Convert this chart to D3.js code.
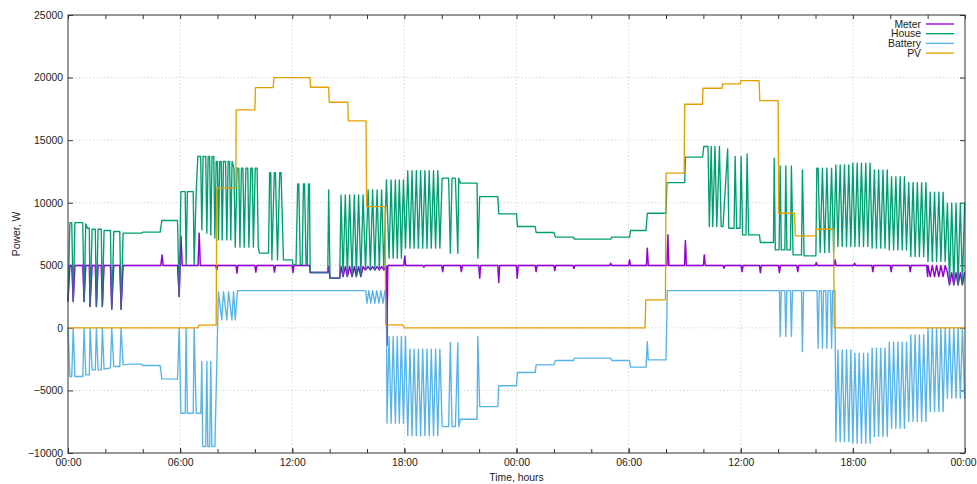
<!DOCTYPE html>
<html>
<head>
<meta charset="utf-8">
<script src="https://cdn.jsdelivr.net/npm/d3@7"></script>
<style>
  body { margin: 0; background: #fff; }
  svg text { font-family: "Liberation Sans", Arial, Helvetica, sans-serif; font-size: 10.4px; fill: #222; }
</style>
</head>
<body>
<svg id="chart" width="977" height="484"></svg>
<script>
// ---- data: [hour since first midnight, watts] ----
const pv = [[0,0],[6.95,0],[7.0,215],[7.93,215],[7.96,11160],[8.98,11160],[9.0,17420],[10.0,17420],[10.03,19200],[10.98,19200],[11.02,20000],[12.95,20000],[12.98,19230],[13.95,19230],[13.98,18030],[14.97,18030],[15.0,16540],[15.95,16540],[15.98,9690],[16.97,9690],[17.0,240],[17.9,240],[18.0,0],[30.88,0],[30.92,2240],[31.97,2240],[32.0,12360],[32.97,12360],[33.0,17870],[33.95,17870],[33.98,19150],[35.0,19150],[35.03,19500],[35.97,19500],[36.0,19760],[36.98,19760],[37.02,18160],[38.0,18160],[38.03,9160],[38.88,9160],[38.92,7350],[40.0,7350],[40.04,7880],[40.97,7880],[41.0,0],[48,0]];

const house = [[0,2100],[0.1,8410],[0.2,8410],[0.28,2100],[0.37,8410],[0.79,8410],[0.86,2100],[0.95,8310],[1.04,7960],[1.14,7960],[1.18,1700],[1.29,7880],[1.46,7880],[1.52,1700],[1.61,7880],[1.78,7880],[1.84,1700],[1.93,7780],[2.27,7780],[2.34,1490],[2.45,7700],[2.77,7700],[2.84,1490],[2.95,7570],[3.95,7570],[4.0,7650],[4.93,7650],[5.02,8580],[5.86,8580],[5.95,2500],[6.04,10890],[6.27,10890],[6.32,5030],[6.39,10890],[6.7,10890],[6.75,5030],[6.86,10890],[6.95,13690],
  [7.1,13690],[7.16,7830],[7.23,13690],[7.37,13690],[7.43,7570],[7.5,13690],[7.58,13690],[7.64,7430],[7.71,13690],[7.8,13690],[7.86,7170],[7.93,13290],[8.0,13290],[8.05,7030],[8.12,13290],[8.2,13290],[8.25,7030],[8.32,13290],[8.43,13290],[8.5,7030],[8.57,13290],[8.65,13290],[8.71,7030],[8.78,13290],[8.88,12760],[8.95,6450],[9.05,12760],[9.14,12760],[9.2,6450],[9.28,12760],[9.36,12760],[9.43,6450],[9.52,12760],[9.62,12760],[9.68,6450],[9.78,12760],[9.86,12760],[9.92,6450],[10.02,12760],[10.12,12760],[10.18,6450],[10.25,5970],[10.73,5970],[10.79,12410],[10.85,12410],[10.91,5430],[11.04,12410],[11.1,12410],[11.21,5430],[11.33,12410],[11.4,12410],[11.53,5430],[12.0,5430],[12.04,5030],[12.2,5030],[12.29,11500],[12.35,11500],[12.43,5030],[12.53,5030],[12.6,11500],[12.66,11500],[12.74,5030],[12.8,5030],[12.87,11500],[12.92,11500],[12.96,4420],[13.9,4420],[13.95,11030],[14.02,3970],[14.54,3970],
  [14.61,10630],[14.72,4100],[14.84,10630],[14.95,4100],[15.07,10630],[15.2,4100],[15.32,10630],[15.43,4100],[15.55,10630],[15.67,4100],[15.79,10630],[15.92,4630],[16.06,11030],[16.18,4630],[16.3,11030],[16.42,4630],[16.54,11030],[16.66,4630],[16.78,11030],[16.9,4630],[17.04,11830],[17.18,5570],[17.29,11830],[17.4,5570],[17.52,11830],[17.62,5570],[17.73,11830],[17.84,5570],[17.95,11830],[18.06,6370],[18.18,12570],[18.3,6370],[18.41,12570],[18.52,6370],[18.64,12570],[18.75,6370],[18.87,12570],[18.98,6370],[19.1,12570],[19.21,6370],[19.33,12570],[19.44,6370],[19.56,12570],[19.67,6370],[19.79,12570],[19.9,6370],[20.02,11960],[20.37,11960],[20.46,5970],[20.55,11960],[20.73,11960],[20.86,5970],[20.91,11960],[21.0,11560],[21.89,11560],[21.93,5570],[22.03,10490],[23.0,10490],[23.05,9110],[24.0,9110],[24.05,8100],[25.0,8100],[25.05,7620],[26.0,7620],[26.08,7250],[27.05,7250],[27.1,7090],[29.05,7090],[29.1,7250],[30.05,7250],[30.1,7780],[30.93,7780],[31.0,9160],[32.0,9160],[32.05,11610],[33.0,11610],[33.04,13640],[33.96,13640],
  [34.02,14490],[34.25,14490],[34.32,8100],[34.42,14490],[34.5,8100],[34.62,14490],[34.72,8100],[34.86,14490],[34.95,8100],[35.05,8100],[35.3,14300],[35.36,7960],[35.64,7960],[35.7,13690],[35.78,7960],[35.96,7960],[36.02,13690],[36.1,7430],[36.28,7430],[36.34,13900],[36.42,7430],[37.0,7430],[37.05,6820],[37.75,6820],[37.79,13560],[37.85,6230],[38.05,6230],[38.11,12940],[38.17,6230],[38.36,6230],[38.41,12940],[38.47,6230],[38.66,6230],[38.71,12940],[38.8,5830],[39.25,5830],[39.3,12620],[39.39,5750],[40.02,5750],[40.07,12760],[40.14,12760],[40.25,6020],[40.37,12760],[40.49,6020],[40.61,12760],[40.73,6020],[40.86,12760],[40.97,6020],
  [41.09,13020],[41.2,6500],[41.32,13020],[41.43,6500],[41.55,13020],[41.66,6500],[41.78,13020],[41.89,6500],[42.0,13160],[42.11,6500],[42.23,13160],[42.34,6500],[42.46,13160],[42.57,6500],[42.69,13160],[42.8,6500],[42.92,13160],[43.03,6370],[43.15,12620],[43.26,6370],[43.38,12620],[43.49,6370],[43.61,12620],[43.72,6370],[43.84,12620],[43.95,6230],[44.07,12090],[44.18,6230],[44.3,12090],[44.41,6230],[44.53,12090],[44.64,6230],[44.76,12090],[44.87,6230],[44.99,11610],[45.1,5700],[45.22,11610],[45.33,5700],[45.45,11610],[45.56,5700],[45.68,11610],[45.79,5700],[45.91,11610],[46.02,5300],[46.14,10850],[46.25,5300],[46.37,10850],[46.48,5300],[46.6,10850],[46.71,5300],[46.83,10850],[46.94,5300],[47.06,9960],[47.17,3440],[47.29,9960],[47.4,3440],[47.52,9960],[47.63,3440],[47.75,9960],[47.86,3440],[47.98,9960],[48,9960]];

const battery = [[0,0],[0.1,-3890],[0.2,-3890],[0.28,0],[0.37,-3890],[0.79,-3890],[0.86,0],[0.95,-3760],[1.14,-3760],[1.18,0],[1.29,-3360],[1.46,-3360],[1.52,0],[1.61,-3360],[1.78,-3360],[1.84,0],[1.93,-3300],[2.27,-3200],[2.34,0],[2.45,-3090],[2.77,-3090],[2.84,0],[2.95,-2960],[3.3,-2900],[3.95,-2900],[4.0,-3010],[4.93,-3010],[5.02,-4075],[5.86,-4100],[5.95,0],[6.04,-6820],[6.27,-6820],[6.32,0],[6.39,-6820],[6.7,-6820],[6.75,0],[6.86,-6820],[7.11,-6820],[7.16,-2690],[7.21,-9480],[7.37,-9480],[7.43,-2690],[7.48,-9480],[7.58,-9480],[7.64,-2690],[7.7,-9480],[7.86,-9480],[8.05,2900],[8.23,640],[8.32,2900],[8.5,640],[8.59,2900],[8.77,640],[8.86,2900],[8.95,640],[9.07,2980],[15.93,2980],[16.0,1970],[16.1,2980],[16.2,1970],[16.3,2980],[16.42,1970],[16.52,2980],[16.64,1970],[16.74,2980],[16.86,1970],[16.96,2980],[17.04,1970],
  [17.07,-7620],[17.18,-690],[17.29,-7620],[17.4,-690],[17.52,-7620],[17.62,-690],[17.73,-7620],[17.84,-690],[17.95,-7620],[18.06,-690],[18.18,-8630],[18.3,-1700],[18.41,-8630],[18.52,-1700],[18.64,-8630],[18.75,-1700],[18.87,-8630],[18.98,-1700],[19.1,-8630],[19.21,-1700],[19.33,-8630],[19.44,-1700],[19.56,-8630],[19.67,-1700],[19.79,-8630],[19.9,-1700],[20.02,-7890],[20.37,-7890],[20.46,-1170],[20.55,-7890],[20.73,-7890],[20.86,-1170],[20.91,-7890],[21.0,-7300],[21.89,-7300],[21.93,-690],[22.03,-6290],[23.0,-6290],[23.05,-4630],[24.0,-4630],[24.05,-3570],[25.0,-3570],[25.05,-2960],[26.0,-2960],[26.08,-2610],[27.05,-2610],[27.1,-2420],[29.05,-2420],[29.1,-2610],[30.05,-2610],[30.1,-3140],[30.93,-3140],[31.0,-1090],[31.05,-2560],[32.0,-2560],[32.07,2980],[38.07,2980],[38.11,-690],[38.17,2980],[38.36,2980],[38.41,-690],[38.47,2980],[38.66,2980],[38.71,-690],[38.77,2980],[39.25,2980],[39.3,-1890],[39.36,2980],[40.08,2980],[40.14,-1620],[40.2,2980],[40.31,2980],[40.37,-1620],[40.43,2980],[40.55,2980],[40.61,-1620],[40.67,2980],[40.8,2980],[40.86,-1620],[40.92,2980],[41.04,2980],
  [41.09,-9080],[41.2,-1760],[41.32,-9080],[41.43,-1760],[41.55,-9080],[41.66,-1760],[41.78,-9080],[41.89,-1760],[42.0,-9210],[42.11,-2020],[42.23,-9210],[42.34,-2020],[42.46,-9210],[42.57,-2020],[42.69,-9210],[42.8,-2020],[42.92,-9210],[43.03,-1620],[43.15,-8690],[43.26,-1620],[43.38,-8690],[43.49,-1620],[43.61,-8690],[43.72,-1620],[43.84,-8690],[43.95,-1140],[44.07,-8020],[44.18,-1140],[44.3,-8020],[44.41,-1140],[44.53,-8020],[44.64,-1140],[44.76,-8020],[44.87,-1140],[44.99,-7480],[45.1,-560],[45.22,-7480],[45.33,-560],[45.45,-7480],[45.56,-560],[45.68,-7480],[45.79,-560],[45.91,-7480],[46.02,0],[46.14,-6690],[46.25,0],[46.37,-6690],[46.48,0],[46.6,-6690],[46.71,0],[46.83,-6690],[46.94,0],[47.06,-5620],[47.17,0],[47.29,-5620],[47.4,0],[47.52,-5620],[47.63,0],[47.75,-5620],[47.86,0],[47.98,-5620],[48,-5620]];

const meter = [[0,2100],[0.1,4980],[0.2,4980],[0.28,2100],[0.37,4980],[0.79,4980],[0.86,2100],[0.95,4980],[1.14,4980],[1.18,1700],[1.29,4980],[1.46,4980],[1.52,1700],[1.61,4980],[1.78,4980],[1.84,1700],[1.93,4980],[2.27,4980],[2.34,1490],[2.45,4980],[2.77,4980],[2.84,1490],[2.95,4980],[4.97,4980],[5.03,5830],[5.09,4980],[5.86,4980],[5.95,2500],[6.0,4980],[6.05,7300],[6.11,4980],[6.96,4980],[7.02,7570],[7.08,4980],[7.91,4980],[7.96,4630],[8.01,4980],[8.99,4980],[9.04,4370],[9.09,4980],[10.0,4980],[10.05,4450],[10.1,4980],[11.0,4980],[11.05,4450],[11.1,4980],[11.99,4980],[12.04,4420],[12.09,4980],[12.92,4980],[12.96,4420],[13.9,4420],[13.95,4900],[14.02,3970],[14.54,3970],[14.61,4900],[14.72,4100],[14.84,4900],[14.95,4100],[15.07,4900],[15.2,4100],[15.32,4900],[15.43,4100],[15.55,4900],[15.67,4100],[15.79,4900],[15.92,4630],[16.06,4900],[16.18,4630],[16.3,4900],[16.42,4630],[16.54,4900],[16.66,4630],[16.78,4900],[16.9,4630],[17.04,4900],[17.07,-1360],[17.11,4980],[17.97,4980],[18.02,5750],[18.07,4980],[18.99,4980],[19.04,4850],[19.09,4980],[20.0,4980],[20.05,4500],[20.1,4980],[21.0,4980],[21.05,4500],[21.1,4980],[21.98,4980],[22.03,3970],[22.08,4980],[23.0,4980],[23.05,3620],[23.1,4980],[23.99,4980],[24.04,3970],[24.09,4980],[25.0,4980],[25.05,4500],[25.1,4980],[26.0,4980],[26.05,4580],[26.1,4980],[27.02,4980],[27.07,4740],[27.12,4980],[28.99,4980],[29.04,5170],[29.09,4980],[30.0,4980],[30.05,5430],[30.1,4980],[30.95,4980],[31.0,6370],[31.05,4980],[32.05,4980],[32.1,7430],[32.15,4980],[32.99,4980],[33.04,6980],[33.09,4980],[34.0,4980],[34.05,5830],[34.1,4980],[35.05,4980],[35.1,4770],[35.15,4980],[36.02,4980],[36.07,4500],[36.12,4980],[37.0,4980],[37.05,4420],[37.1,4980],[38.02,4980],[38.07,4420],[38.12,4980],[39.0,4980],[39.05,4500],[39.1,4980],[39.99,4980],[40.04,5220],[40.09,4980],[41.0,4980],[41.05,5430],[41.1,4980],[42.04,4980],[42.09,5170],[42.14,4980],[43.02,4980],[43.07,4500],[43.12,4980],[44.0,4980],[44.05,4500],[44.1,4980],[45.02,4980],[45.07,4500],[45.12,4980],[45.95,4980],[46.0,4100],[46.02,4980],[46.14,4100],[46.25,4980],[46.37,4100],[46.48,4980],[46.6,4100],[46.71,4980],[46.83,4100],[46.94,4980],[47.06,4400],[47.17,3440],[47.29,4400],[47.4,3440],[47.52,4400],[47.63,3440],[47.75,4400],[47.86,3440],[47.98,4400],[48,4400]];

const seriesNames = ['Meter', 'House', 'Battery', 'PV'];
const seriesColors = ['#9400d3', '#009e73', '#56b4e9', '#e69f00'];
const seriesData = [meter, house, battery, pv];

const xMajor = [0, 6, 12, 18, 24, 30, 36, 42, 48];
const xMinor = d3.range(0, 49, 2);
const yTicks = [-10000, -5000, 0, 5000, 10000, 15000, 20000, 25000];

// ---- layout ----
const svg = d3.select('#chart');
const plotL = 68, plotR = 965, plotT = 15, plotB = 453;

const x = d3.scaleLinear().domain([0, 48]).range([plotL, plotR]);
const y = d3.scaleLinear().domain([-10000, 25000]).range([plotB, plotT]);
const fmtHour = d => String(d % 24).padStart(2, '0') + ':00';

svg.append('rect').attr('width', 977).attr('height', 484).attr('fill', '#fff');

// dotted grid
const grid = svg.append('g').attr('stroke', '#c4c4c4').attr('stroke-width', 0.8).attr('stroke-dasharray', '1.2,2.4');
grid.selectAll('line.gx').data(xMajor.slice(1, -1)).enter().append('line')
    .attr('x1', d => x(d)).attr('x2', d => x(d)).attr('y1', plotT).attr('y2', plotB);
grid.selectAll('line.gy').data(yTicks.slice(1, -1)).enter().append('line')
    .attr('x1', plotL).attr('x2', plotR).attr('y1', d => y(d)).attr('y2', d => y(d));

// axes (ticks point inward on all four sides)
function styleAxis(g) {
    g.select('.domain').remove();
    g.selectAll('line').attr('stroke', '#333');
    g.selectAll('text').attr('font-size', null).attr('font-family', null).attr('fill', '#222');
}
svg.append('g').attr('transform', `translate(0,${plotB})`)
    .call(d3.axisBottom(x).tickValues(xMinor).tickSize(-4).tickFormat(''))
    .call(styleAxis);
const xAxisG = svg.append('g').attr('transform', `translate(0,${plotB})`)
    .call(d3.axisBottom(x).tickValues(xMajor).tickSize(-5).tickPadding(6).tickFormat(fmtHour))
    .call(styleAxis);
// last label sits at the page edge: keep it inside the picture
xAxisG.selectAll('.tick').filter(d => d === 48).select('text')
    .attr('text-anchor', 'end').attr('x', 976 - plotR);
svg.append('g').attr('transform', `translate(0,${plotT})`)
    .call(d3.axisTop(x).tickValues(xMinor).tickSize(-4).tickFormat(''))
    .call(styleAxis);
svg.append('g').attr('transform', `translate(${plotL},0)`)
    .call(d3.axisLeft(y).tickValues(yTicks).tickSize(-5).tickPadding(5).tickFormat(d3.format('d')))
    .call(styleAxis);
svg.append('g').attr('transform', `translate(${plotR},0)`)
    .call(d3.axisRight(y).tickValues(yTicks).tickSize(-5).tickFormat(''))
    .call(styleAxis);

// lines
const line = d3.line().x(d => x(d[0])).y(d => y(d[1]));
const lines = svg.append('g').attr('fill', 'none').attr('stroke-width', 1.35).attr('stroke-linejoin', 'round');
seriesData.forEach((data, i) => {
    lines.append('path').attr('d', line(data)).attr('stroke', seriesColors[i]);
});
// meter drawn again faintly on top, so where it runs under House it shows dark blue-teal
lines.append('path').attr('d', line(meter)).attr('stroke', seriesColors[0]).attr('stroke-opacity', 0.35);

// border
svg.append('rect').attr('x', plotL).attr('y', plotT).attr('width', plotR - plotL).attr('height', plotB - plotT)
    .attr('fill', 'none').attr('stroke', '#333').attr('stroke-width', 1);

// axis titles
svg.append('text').attr('x', (plotL + plotR) / 2).attr('y', 481).attr('text-anchor', 'middle').text('Time, hours');
svg.append('text').attr('transform', `translate(20,${(plotT + plotB) / 2}) rotate(-90)`)
    .attr('text-anchor', 'middle').text('Power, W');

// legend
const legend = svg.append('g').selectAll('g').data(seriesNames).enter().append('g')
    .attr('transform', (d, i) => `translate(0,${24 + i * 9.7})`);
legend.append('text').attr('x', 921).attr('dy', '0.35em').attr('text-anchor', 'end').text(d => d);
legend.append('line').attr('x1', 926).attr('x2', 954)
    .attr('stroke', (d, i) => seriesColors[i]).attr('stroke-width', 1.35);
</script>
</body>
</html>
